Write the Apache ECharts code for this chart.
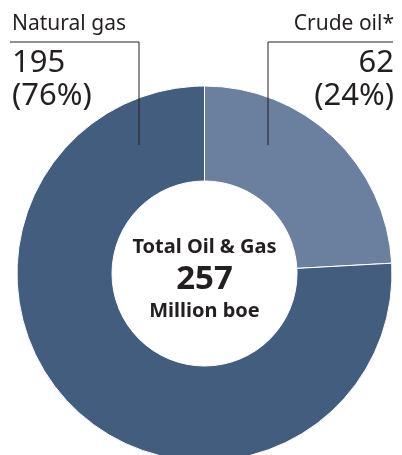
<!DOCTYPE html>
<html><head><meta charset="utf-8">
<script src="https://cdn.jsdelivr.net/npm/echarts@6/dist/echarts.min.js"></script>
<style>html,body{margin:0;padding:0;background:#fff}#c{width:402px;height:455px}</style>
</head><body><div id="c"></div>
<script>
const categories = ['Crude oil*', 'Natural gas'];
const values = [62, 195];
const colors = ['#6b7f9e', '#435d7f'];
const centerLines = ['Total Oil & Gas', '257', 'Million boe'];

const FONT = 'Noto Sans';
const chart = echarts.init(document.getElementById('c'), null, {renderer: 'canvas'});
const cx = 204.5, cy = 273.5;
// label placement (annotation layout)
const labelPos = [
  {x: 394, align: 'right', lineX: 268, endX: 393},
  {x: 12, align: 'left', lineX: 139, endX: 10}
];
const base = {
  type: 'pie',
  center: [cx, cy],
  radius: [92.5, 187.5],
  startAngle: 90,
  clockwise: true,
  avoidLabelOverlap: false,
  silent: true
};
chart.setOption({
  animation: false,
  graphic: centerLines.map((t, i) => ({
    type: 'text', x: cx, y: [247, 280, 311.5][i],
    style: {
      text: t, fill: '#231f20', align: 'center', verticalAlign: 'middle',
      font: 'bold ' + [20, 33, 20][i] + 'px "' + FONT + '"'
    }
  })),
  series: [Object.assign({}, base, {
    z: 2,
    itemStyle: {borderColor: '#fff', borderWidth: 1},
    data: categories.map((n, i) => ({name: n, value: values[i], itemStyle: {color: colors[i]}})),
    label: {show: false},
    labelLine: {show: false}
  }), Object.assign({}, base, {
    z: 5,
    itemStyle: {color: 'rgba(0,0,0,0)', borderWidth: 0},
    data: categories.map((n, i) => ({name: n, value: values[i]})),
    label: {
      show: true,
      formatter: p => '{n|' + p.name + '}\n{v|' + p.value + '}\n{v|(' + Math.round(p.percent) + '%)}',
      rich: {
        n: {fontFamily: FONT, fontSize: 21, lineHeight: 44, color: '#231f20'},
        v: {fontFamily: FONT, fontSize: 31, lineHeight: 33, color: '#231f20'}
      }
    },
    labelLine: {show: true, showAbove: true, lineStyle: {color: '#231f20', width: 1}},
    labelLayout: function (params) {
      const L = labelPos[params.dataIndex];
      return {
        x: L.x, y: 2.5, align: L.align, verticalAlign: 'top',
        labelLinePoints: [[L.lineX, 145], [L.lineX, 42], [L.endX, 42]]
      };
    }
  })]
});
</script></body></html>
